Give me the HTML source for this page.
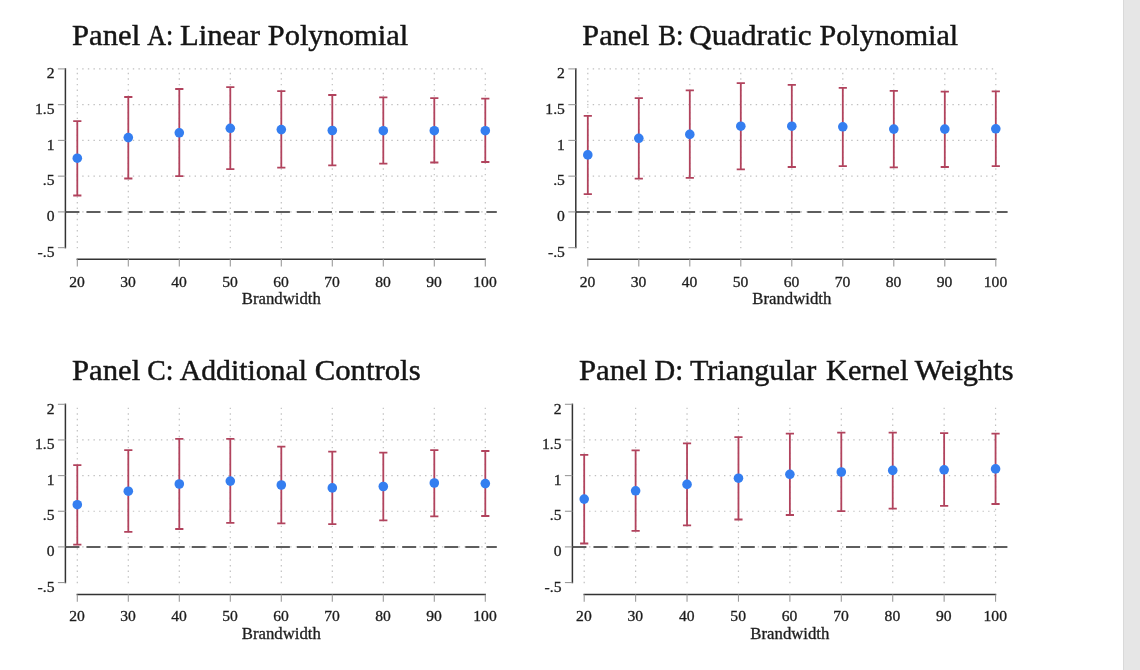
<!DOCTYPE html>
<html><head><meta charset="utf-8"><title>Bandwidth robustness</title>
<style>
html,body{margin:0;padding:0;background:#fff;width:1140px;height:670px;overflow:hidden}
svg{position:absolute;left:0;top:0;display:block;will-change:transform}
svg text{font-family:"Liberation Serif", serif}
.t{fill:#151515;stroke:#151515;stroke-width:0.45px}
.l{fill:#1e1e1e;stroke:#1e1e1e;stroke-width:0.3px}
.g{stroke:#c0c0c0;stroke-width:1.2px;stroke-dasharray:1.4 4.22;fill:none}
.z{stroke:#5e5e5e;stroke-width:2px;stroke-dasharray:14 7.05;fill:none}
.a{stroke:#333333;stroke-width:1.5px;fill:none}
.k{stroke:#9a9a9a;stroke-width:1.1px;fill:none}
.e{stroke:#b1435d;stroke-width:1.8px;fill:none}
.d{fill:#347ef0}
</style></head><body>
<svg width="1140" height="670" viewBox="0 0 1140 670">
<rect x="0" y="0" width="1140" height="670" fill="#fff"/>
<g>
<text x="72.02" y="44.5" font-size="29.5" class="t" textLength="68.20" lengthAdjust="spacingAndGlyphs">Panel</text>
<text x="147.25" y="44.5" font-size="29.5" class="t" textLength="26.07" lengthAdjust="spacingAndGlyphs">A:</text>
<text x="180.02" y="44.5" font-size="29.5" class="t" textLength="80.05" lengthAdjust="spacingAndGlyphs">Linear</text>
<text x="267.72" y="44.5" font-size="29.5" class="t" textLength="140.49" lengthAdjust="spacingAndGlyphs">Polynomial</text>
<line x1="76.6" y1="68.9" x2="485.3" y2="68.9" class="g"/>
<line x1="76.6" y1="104.65" x2="485.3" y2="104.65" class="g"/>
<line x1="76.6" y1="140.4" x2="485.3" y2="140.4" class="g"/>
<line x1="76.6" y1="176.15" x2="485.3" y2="176.15" class="g"/>
<line x1="76.6" y1="211.9" x2="485.3" y2="211.9" class="g"/>
<line x1="77.3" y1="248.35" x2="77.3" y2="68.9" class="g"/>
<line x1="128.3" y1="248.35" x2="128.3" y2="68.9" class="g"/>
<line x1="179.3" y1="248.35" x2="179.3" y2="68.9" class="g"/>
<line x1="230.3" y1="248.35" x2="230.3" y2="68.9" class="g"/>
<line x1="281.3" y1="248.35" x2="281.3" y2="68.9" class="g"/>
<line x1="332.3" y1="248.35" x2="332.3" y2="68.9" class="g"/>
<line x1="383.3" y1="248.35" x2="383.3" y2="68.9" class="g"/>
<line x1="434.3" y1="248.35" x2="434.3" y2="68.9" class="g"/>
<line x1="485.3" y1="248.35" x2="485.3" y2="68.9" class="g"/>
<line x1="65.4" y1="211.9" x2="496.8" y2="211.9" class="z"/>
<line x1="65.4" y1="68.2" x2="65.4" y2="248.35" class="a"/>
<line x1="57.9" y1="68.9" x2="65.4" y2="68.9" class="k"/>
<text x="54.5" y="78.1" font-size="14.2" text-anchor="end" textLength="7.81" lengthAdjust="spacingAndGlyphs" class="l">2</text>
<line x1="57.9" y1="104.65" x2="65.4" y2="104.65" class="k"/>
<text x="54.5" y="113.85" font-size="14.2" text-anchor="end" textLength="19.53" lengthAdjust="spacingAndGlyphs" class="l">1.5</text>
<line x1="57.9" y1="140.4" x2="65.4" y2="140.4" class="k"/>
<text x="54.5" y="149.6" font-size="14.2" text-anchor="end" textLength="7.81" lengthAdjust="spacingAndGlyphs" class="l">1</text>
<line x1="57.9" y1="176.15" x2="65.4" y2="176.15" class="k"/>
<text x="54.5" y="185.35" font-size="14.2" text-anchor="end" textLength="11.71" lengthAdjust="spacingAndGlyphs" class="l">.5</text>
<line x1="57.9" y1="211.9" x2="65.4" y2="211.9" class="k"/>
<text x="54.5" y="221.1" font-size="14.2" text-anchor="end" textLength="7.81" lengthAdjust="spacingAndGlyphs" class="l">0</text>
<line x1="57.9" y1="247.65" x2="65.4" y2="247.65" class="k"/>
<text x="54.5" y="256.85" font-size="14.2" text-anchor="end" textLength="16.92" lengthAdjust="spacingAndGlyphs" class="l">-.5</text>
<line x1="76.6" y1="259.3" x2="486" y2="259.3" class="a"/>
<line x1="77.3" y1="259.3" x2="77.3" y2="266.5" class="k"/>
<text x="77" y="286.5" font-size="14.2" text-anchor="middle" textLength="15.62" lengthAdjust="spacingAndGlyphs" class="l">20</text>
<line x1="128.3" y1="259.3" x2="128.3" y2="266.5" class="k"/>
<text x="128" y="286.5" font-size="14.2" text-anchor="middle" textLength="15.62" lengthAdjust="spacingAndGlyphs" class="l">30</text>
<line x1="179.3" y1="259.3" x2="179.3" y2="266.5" class="k"/>
<text x="179" y="286.5" font-size="14.2" text-anchor="middle" textLength="15.62" lengthAdjust="spacingAndGlyphs" class="l">40</text>
<line x1="230.3" y1="259.3" x2="230.3" y2="266.5" class="k"/>
<text x="230" y="286.5" font-size="14.2" text-anchor="middle" textLength="15.62" lengthAdjust="spacingAndGlyphs" class="l">50</text>
<line x1="281.3" y1="259.3" x2="281.3" y2="266.5" class="k"/>
<text x="281" y="286.5" font-size="14.2" text-anchor="middle" textLength="15.62" lengthAdjust="spacingAndGlyphs" class="l">60</text>
<line x1="332.3" y1="259.3" x2="332.3" y2="266.5" class="k"/>
<text x="332" y="286.5" font-size="14.2" text-anchor="middle" textLength="15.62" lengthAdjust="spacingAndGlyphs" class="l">70</text>
<line x1="383.3" y1="259.3" x2="383.3" y2="266.5" class="k"/>
<text x="383" y="286.5" font-size="14.2" text-anchor="middle" textLength="15.62" lengthAdjust="spacingAndGlyphs" class="l">80</text>
<line x1="434.3" y1="259.3" x2="434.3" y2="266.5" class="k"/>
<text x="434" y="286.5" font-size="14.2" text-anchor="middle" textLength="15.62" lengthAdjust="spacingAndGlyphs" class="l">90</text>
<line x1="485.3" y1="259.3" x2="485.3" y2="266.5" class="k"/>
<text x="485" y="286.5" font-size="14.2" text-anchor="middle" textLength="23.43" lengthAdjust="spacingAndGlyphs" class="l">100</text>
<text x="281.3" y="304.1" font-size="16" class="l" text-anchor="middle" textLength="79" lengthAdjust="spacingAndGlyphs">Brandwidth</text>
<path d="M77.3 121.2V195.5M73.2 121.2H81.4M73.2 195.5H81.4" class="e"/>
<path d="M128.3 97V178.5M124.2 97H132.4M124.2 178.5H132.4" class="e"/>
<path d="M179.3 89V176.1M175.2 89H183.4M175.2 176.1H183.4" class="e"/>
<path d="M230.3 87.2V169.2M226.2 87.2H234.4M226.2 169.2H234.4" class="e"/>
<path d="M281.3 91.1V167.7M277.2 91.1H285.4M277.2 167.7H285.4" class="e"/>
<path d="M332.3 95V165.4M328.2 95H336.4M328.2 165.4H336.4" class="e"/>
<path d="M383.3 97.4V163.6M379.2 97.4H387.4M379.2 163.6H387.4" class="e"/>
<path d="M434.3 98.1V162.5M430.2 98.1H438.4M430.2 162.5H438.4" class="e"/>
<path d="M485.3 98.6V162M481.2 98.6H489.4M481.2 162H489.4" class="e"/>
<circle cx="77.3" cy="158.2" r="4.8" class="d"/>
<circle cx="128.3" cy="137.6" r="4.8" class="d"/>
<circle cx="179.3" cy="132.8" r="4.8" class="d"/>
<circle cx="230.3" cy="128.3" r="4.8" class="d"/>
<circle cx="281.3" cy="129.6" r="4.8" class="d"/>
<circle cx="332.3" cy="130.5" r="4.8" class="d"/>
<circle cx="383.3" cy="130.7" r="4.8" class="d"/>
<circle cx="434.3" cy="130.7" r="4.8" class="d"/>
<circle cx="485.3" cy="130.7" r="4.8" class="d"/>
</g>
<g>
<text x="582.33" y="44.5" font-size="29.5" class="t" textLength="67.18" lengthAdjust="spacingAndGlyphs">Panel</text>
<text x="658.13" y="44.5" font-size="29.5" class="t" textLength="25.23" lengthAdjust="spacingAndGlyphs">B:</text>
<text x="689.23" y="44.5" font-size="29.5" class="t" textLength="122.43" lengthAdjust="spacingAndGlyphs">Quadratic</text>
<text x="819.53" y="44.5" font-size="29.5" class="t" textLength="138.67" lengthAdjust="spacingAndGlyphs">Polynomial</text>
<line x1="587.1" y1="68.9" x2="995.8" y2="68.9" class="g"/>
<line x1="587.1" y1="104.65" x2="995.8" y2="104.65" class="g"/>
<line x1="587.1" y1="140.4" x2="995.8" y2="140.4" class="g"/>
<line x1="587.1" y1="176.15" x2="995.8" y2="176.15" class="g"/>
<line x1="587.1" y1="211.9" x2="995.8" y2="211.9" class="g"/>
<line x1="587.8" y1="248.35" x2="587.8" y2="68.9" class="g"/>
<line x1="638.8" y1="248.35" x2="638.8" y2="68.9" class="g"/>
<line x1="689.8" y1="248.35" x2="689.8" y2="68.9" class="g"/>
<line x1="740.8" y1="248.35" x2="740.8" y2="68.9" class="g"/>
<line x1="791.8" y1="248.35" x2="791.8" y2="68.9" class="g"/>
<line x1="842.8" y1="248.35" x2="842.8" y2="68.9" class="g"/>
<line x1="893.8" y1="248.35" x2="893.8" y2="68.9" class="g"/>
<line x1="944.8" y1="248.35" x2="944.8" y2="68.9" class="g"/>
<line x1="995.8" y1="248.35" x2="995.8" y2="68.9" class="g"/>
<line x1="575.8" y1="211.9" x2="1007.6" y2="211.9" class="z"/>
<line x1="575.8" y1="68.2" x2="575.8" y2="248.35" class="a"/>
<line x1="568.3" y1="68.9" x2="575.8" y2="68.9" class="k"/>
<text x="564.9" y="78.1" font-size="14.2" text-anchor="end" textLength="7.81" lengthAdjust="spacingAndGlyphs" class="l">2</text>
<line x1="568.3" y1="104.65" x2="575.8" y2="104.65" class="k"/>
<text x="564.9" y="113.85" font-size="14.2" text-anchor="end" textLength="19.53" lengthAdjust="spacingAndGlyphs" class="l">1.5</text>
<line x1="568.3" y1="140.4" x2="575.8" y2="140.4" class="k"/>
<text x="564.9" y="149.6" font-size="14.2" text-anchor="end" textLength="7.81" lengthAdjust="spacingAndGlyphs" class="l">1</text>
<line x1="568.3" y1="176.15" x2="575.8" y2="176.15" class="k"/>
<text x="564.9" y="185.35" font-size="14.2" text-anchor="end" textLength="11.71" lengthAdjust="spacingAndGlyphs" class="l">.5</text>
<line x1="568.3" y1="211.9" x2="575.8" y2="211.9" class="k"/>
<text x="564.9" y="221.1" font-size="14.2" text-anchor="end" textLength="7.81" lengthAdjust="spacingAndGlyphs" class="l">0</text>
<line x1="568.3" y1="247.65" x2="575.8" y2="247.65" class="k"/>
<text x="564.9" y="256.85" font-size="14.2" text-anchor="end" textLength="16.92" lengthAdjust="spacingAndGlyphs" class="l">-.5</text>
<line x1="587.1" y1="259.3" x2="996.5" y2="259.3" class="a"/>
<line x1="587.8" y1="259.3" x2="587.8" y2="266.5" class="k"/>
<text x="587.5" y="286.5" font-size="14.2" text-anchor="middle" textLength="15.62" lengthAdjust="spacingAndGlyphs" class="l">20</text>
<line x1="638.8" y1="259.3" x2="638.8" y2="266.5" class="k"/>
<text x="638.5" y="286.5" font-size="14.2" text-anchor="middle" textLength="15.62" lengthAdjust="spacingAndGlyphs" class="l">30</text>
<line x1="689.8" y1="259.3" x2="689.8" y2="266.5" class="k"/>
<text x="689.5" y="286.5" font-size="14.2" text-anchor="middle" textLength="15.62" lengthAdjust="spacingAndGlyphs" class="l">40</text>
<line x1="740.8" y1="259.3" x2="740.8" y2="266.5" class="k"/>
<text x="740.5" y="286.5" font-size="14.2" text-anchor="middle" textLength="15.62" lengthAdjust="spacingAndGlyphs" class="l">50</text>
<line x1="791.8" y1="259.3" x2="791.8" y2="266.5" class="k"/>
<text x="791.5" y="286.5" font-size="14.2" text-anchor="middle" textLength="15.62" lengthAdjust="spacingAndGlyphs" class="l">60</text>
<line x1="842.8" y1="259.3" x2="842.8" y2="266.5" class="k"/>
<text x="842.5" y="286.5" font-size="14.2" text-anchor="middle" textLength="15.62" lengthAdjust="spacingAndGlyphs" class="l">70</text>
<line x1="893.8" y1="259.3" x2="893.8" y2="266.5" class="k"/>
<text x="893.5" y="286.5" font-size="14.2" text-anchor="middle" textLength="15.62" lengthAdjust="spacingAndGlyphs" class="l">80</text>
<line x1="944.8" y1="259.3" x2="944.8" y2="266.5" class="k"/>
<text x="944.5" y="286.5" font-size="14.2" text-anchor="middle" textLength="15.62" lengthAdjust="spacingAndGlyphs" class="l">90</text>
<line x1="995.8" y1="259.3" x2="995.8" y2="266.5" class="k"/>
<text x="995.5" y="286.5" font-size="14.2" text-anchor="middle" textLength="23.43" lengthAdjust="spacingAndGlyphs" class="l">100</text>
<text x="791.8" y="304.1" font-size="16" class="l" text-anchor="middle" textLength="79" lengthAdjust="spacingAndGlyphs">Brandwidth</text>
<path d="M587.8 115.8V194.1M583.7 115.8H591.9M583.7 194.1H591.9" class="e"/>
<path d="M638.8 98.1V178.6M634.7 98.1H642.9M634.7 178.6H642.9" class="e"/>
<path d="M689.8 90.4V177.8M685.7 90.4H693.9M685.7 177.8H693.9" class="e"/>
<path d="M740.8 83.2V169.3M736.7 83.2H744.9M736.7 169.3H744.9" class="e"/>
<path d="M791.8 84.9V167M787.7 84.9H795.9M787.7 167H795.9" class="e"/>
<path d="M842.8 87.8V166.2M838.7 87.8H846.9M838.7 166.2H846.9" class="e"/>
<path d="M893.8 90.9V167.3M889.7 90.9H897.9M889.7 167.3H897.9" class="e"/>
<path d="M944.8 91.7V167M940.7 91.7H948.9M940.7 167H948.9" class="e"/>
<path d="M995.8 91.3V166.2M991.7 91.3H999.9M991.7 166.2H999.9" class="e"/>
<circle cx="587.8" cy="154.9" r="4.8" class="d"/>
<circle cx="638.8" cy="138.3" r="4.8" class="d"/>
<circle cx="689.8" cy="134.4" r="4.8" class="d"/>
<circle cx="740.8" cy="126.2" r="4.8" class="d"/>
<circle cx="791.8" cy="126.2" r="4.8" class="d"/>
<circle cx="842.8" cy="126.8" r="4.8" class="d"/>
<circle cx="893.8" cy="129.1" r="4.8" class="d"/>
<circle cx="944.8" cy="129.1" r="4.8" class="d"/>
<circle cx="995.8" cy="128.8" r="4.8" class="d"/>
</g>
<g>
<text x="71.91" y="379.7" font-size="29.5" class="t" textLength="68.30" lengthAdjust="spacingAndGlyphs">Panel</text>
<text x="147.26" y="379.7" font-size="29.5" class="t" textLength="26.18" lengthAdjust="spacingAndGlyphs">C:</text>
<text x="179.71" y="379.7" font-size="29.5" class="t" textLength="127.19" lengthAdjust="spacingAndGlyphs">Additional</text>
<text x="314.74" y="379.7" font-size="29.5" class="t" textLength="105.87" lengthAdjust="spacingAndGlyphs">Controls</text>
<line x1="76.6" y1="439.95" x2="485.3" y2="439.95" class="g"/>
<line x1="76.6" y1="475.6" x2="485.3" y2="475.6" class="g"/>
<line x1="76.6" y1="511.25" x2="485.3" y2="511.25" class="g"/>
<line x1="76.6" y1="546.9" x2="485.3" y2="546.9" class="g"/>
<line x1="77.3" y1="583.25" x2="77.3" y2="404.3" class="g"/>
<line x1="128.3" y1="583.25" x2="128.3" y2="404.3" class="g"/>
<line x1="179.3" y1="583.25" x2="179.3" y2="404.3" class="g"/>
<line x1="230.3" y1="583.25" x2="230.3" y2="404.3" class="g"/>
<line x1="281.3" y1="583.25" x2="281.3" y2="404.3" class="g"/>
<line x1="332.3" y1="583.25" x2="332.3" y2="404.3" class="g"/>
<line x1="383.3" y1="583.25" x2="383.3" y2="404.3" class="g"/>
<line x1="434.3" y1="583.25" x2="434.3" y2="404.3" class="g"/>
<line x1="485.3" y1="583.25" x2="485.3" y2="404.3" class="g"/>
<line x1="65.4" y1="546.9" x2="496.8" y2="546.9" class="z"/>
<line x1="65.4" y1="403.6" x2="65.4" y2="583.25" class="a"/>
<line x1="57.9" y1="404.3" x2="65.4" y2="404.3" class="k"/>
<text x="54.5" y="413.5" font-size="14.2" text-anchor="end" textLength="7.81" lengthAdjust="spacingAndGlyphs" class="l">2</text>
<line x1="57.9" y1="439.95" x2="65.4" y2="439.95" class="k"/>
<text x="54.5" y="449.15" font-size="14.2" text-anchor="end" textLength="19.53" lengthAdjust="spacingAndGlyphs" class="l">1.5</text>
<line x1="57.9" y1="475.6" x2="65.4" y2="475.6" class="k"/>
<text x="54.5" y="484.8" font-size="14.2" text-anchor="end" textLength="7.81" lengthAdjust="spacingAndGlyphs" class="l">1</text>
<line x1="57.9" y1="511.25" x2="65.4" y2="511.25" class="k"/>
<text x="54.5" y="520.45" font-size="14.2" text-anchor="end" textLength="11.71" lengthAdjust="spacingAndGlyphs" class="l">.5</text>
<line x1="57.9" y1="546.9" x2="65.4" y2="546.9" class="k"/>
<text x="54.5" y="556.1" font-size="14.2" text-anchor="end" textLength="7.81" lengthAdjust="spacingAndGlyphs" class="l">0</text>
<line x1="57.9" y1="582.55" x2="65.4" y2="582.55" class="k"/>
<text x="54.5" y="591.75" font-size="14.2" text-anchor="end" textLength="16.92" lengthAdjust="spacingAndGlyphs" class="l">-.5</text>
<line x1="76.6" y1="594.5" x2="486" y2="594.5" class="a"/>
<line x1="77.3" y1="594.5" x2="77.3" y2="601.7" class="k"/>
<text x="77" y="620.9" font-size="14.2" text-anchor="middle" textLength="15.62" lengthAdjust="spacingAndGlyphs" class="l">20</text>
<line x1="128.3" y1="594.5" x2="128.3" y2="601.7" class="k"/>
<text x="128" y="620.9" font-size="14.2" text-anchor="middle" textLength="15.62" lengthAdjust="spacingAndGlyphs" class="l">30</text>
<line x1="179.3" y1="594.5" x2="179.3" y2="601.7" class="k"/>
<text x="179" y="620.9" font-size="14.2" text-anchor="middle" textLength="15.62" lengthAdjust="spacingAndGlyphs" class="l">40</text>
<line x1="230.3" y1="594.5" x2="230.3" y2="601.7" class="k"/>
<text x="230" y="620.9" font-size="14.2" text-anchor="middle" textLength="15.62" lengthAdjust="spacingAndGlyphs" class="l">50</text>
<line x1="281.3" y1="594.5" x2="281.3" y2="601.7" class="k"/>
<text x="281" y="620.9" font-size="14.2" text-anchor="middle" textLength="15.62" lengthAdjust="spacingAndGlyphs" class="l">60</text>
<line x1="332.3" y1="594.5" x2="332.3" y2="601.7" class="k"/>
<text x="332" y="620.9" font-size="14.2" text-anchor="middle" textLength="15.62" lengthAdjust="spacingAndGlyphs" class="l">70</text>
<line x1="383.3" y1="594.5" x2="383.3" y2="601.7" class="k"/>
<text x="383" y="620.9" font-size="14.2" text-anchor="middle" textLength="15.62" lengthAdjust="spacingAndGlyphs" class="l">80</text>
<line x1="434.3" y1="594.5" x2="434.3" y2="601.7" class="k"/>
<text x="434" y="620.9" font-size="14.2" text-anchor="middle" textLength="15.62" lengthAdjust="spacingAndGlyphs" class="l">90</text>
<line x1="485.3" y1="594.5" x2="485.3" y2="601.7" class="k"/>
<text x="485" y="620.9" font-size="14.2" text-anchor="middle" textLength="23.43" lengthAdjust="spacingAndGlyphs" class="l">100</text>
<text x="281.3" y="638.6" font-size="16" class="l" text-anchor="middle" textLength="79" lengthAdjust="spacingAndGlyphs">Brandwidth</text>
<path d="M77.3 465.2V544.7M73.2 465.2H81.4M73.2 544.7H81.4" class="e"/>
<path d="M128.3 450.1V531.9M124.2 450.1H132.4M124.2 531.9H132.4" class="e"/>
<path d="M179.3 438.8V529M175.2 438.8H183.4M175.2 529H183.4" class="e"/>
<path d="M230.3 438.8V522.8M226.2 438.8H234.4M226.2 522.8H234.4" class="e"/>
<path d="M281.3 446.6V523.4M277.2 446.6H285.4M277.2 523.4H285.4" class="e"/>
<path d="M332.3 451.6V524.1M328.2 451.6H336.4M328.2 524.1H336.4" class="e"/>
<path d="M383.3 452.6V520.4M379.2 452.6H387.4M379.2 520.4H387.4" class="e"/>
<path d="M434.3 450.1V516.4M430.2 450.1H438.4M430.2 516.4H438.4" class="e"/>
<path d="M485.3 451V516M481.2 451H489.4M481.2 516H489.4" class="e"/>
<circle cx="77.3" cy="504.7" r="4.8" class="d"/>
<circle cx="128.3" cy="491.2" r="4.8" class="d"/>
<circle cx="179.3" cy="484" r="4.8" class="d"/>
<circle cx="230.3" cy="481.1" r="4.8" class="d"/>
<circle cx="281.3" cy="485" r="4.8" class="d"/>
<circle cx="332.3" cy="487.9" r="4.8" class="d"/>
<circle cx="383.3" cy="486.5" r="4.8" class="d"/>
<circle cx="434.3" cy="483" r="4.8" class="d"/>
<circle cx="485.3" cy="483.6" r="4.8" class="d"/>
</g>
<g>
<text x="578.91" y="379.7" font-size="29.5" class="t" textLength="68.40" lengthAdjust="spacingAndGlyphs">Panel</text>
<text x="654.57" y="379.7" font-size="29.5" class="t" textLength="28.65" lengthAdjust="spacingAndGlyphs">D:</text>
<text x="689.96" y="379.7" font-size="29.5" class="t" textLength="126.30" lengthAdjust="spacingAndGlyphs">Triangular</text>
<text x="826.13" y="379.7" font-size="29.5" class="t" textLength="82.17" lengthAdjust="spacingAndGlyphs">Kernel</text>
<text x="914.67" y="379.7" font-size="29.5" class="t" textLength="98.80" lengthAdjust="spacingAndGlyphs">Weights</text>
<line x1="583.5" y1="439.95" x2="995.56" y2="439.95" class="g"/>
<line x1="583.5" y1="475.6" x2="995.56" y2="475.6" class="g"/>
<line x1="583.5" y1="511.25" x2="995.56" y2="511.25" class="g"/>
<line x1="583.5" y1="546.9" x2="995.56" y2="546.9" class="g"/>
<line x1="584.2" y1="583.25" x2="584.2" y2="404.3" class="g"/>
<line x1="635.62" y1="583.25" x2="635.62" y2="404.3" class="g"/>
<line x1="687.04" y1="583.25" x2="687.04" y2="404.3" class="g"/>
<line x1="738.46" y1="583.25" x2="738.46" y2="404.3" class="g"/>
<line x1="789.88" y1="583.25" x2="789.88" y2="404.3" class="g"/>
<line x1="841.3" y1="583.25" x2="841.3" y2="404.3" class="g"/>
<line x1="892.72" y1="583.25" x2="892.72" y2="404.3" class="g"/>
<line x1="944.14" y1="583.25" x2="944.14" y2="404.3" class="g"/>
<line x1="995.56" y1="583.25" x2="995.56" y2="404.3" class="g"/>
<line x1="572.4" y1="546.9" x2="1007.6" y2="546.9" class="z"/>
<line x1="572.4" y1="403.6" x2="572.4" y2="583.25" class="a"/>
<line x1="564.9" y1="404.3" x2="572.4" y2="404.3" class="k"/>
<text x="561.5" y="413.5" font-size="14.2" text-anchor="end" textLength="7.81" lengthAdjust="spacingAndGlyphs" class="l">2</text>
<line x1="564.9" y1="439.95" x2="572.4" y2="439.95" class="k"/>
<text x="561.5" y="449.15" font-size="14.2" text-anchor="end" textLength="19.53" lengthAdjust="spacingAndGlyphs" class="l">1.5</text>
<line x1="564.9" y1="475.6" x2="572.4" y2="475.6" class="k"/>
<text x="561.5" y="484.8" font-size="14.2" text-anchor="end" textLength="7.81" lengthAdjust="spacingAndGlyphs" class="l">1</text>
<line x1="564.9" y1="511.25" x2="572.4" y2="511.25" class="k"/>
<text x="561.5" y="520.45" font-size="14.2" text-anchor="end" textLength="11.71" lengthAdjust="spacingAndGlyphs" class="l">.5</text>
<line x1="564.9" y1="546.9" x2="572.4" y2="546.9" class="k"/>
<text x="561.5" y="556.1" font-size="14.2" text-anchor="end" textLength="7.81" lengthAdjust="spacingAndGlyphs" class="l">0</text>
<line x1="564.9" y1="582.55" x2="572.4" y2="582.55" class="k"/>
<text x="561.5" y="591.75" font-size="14.2" text-anchor="end" textLength="16.92" lengthAdjust="spacingAndGlyphs" class="l">-.5</text>
<line x1="583.5" y1="594.5" x2="996.26" y2="594.5" class="a"/>
<line x1="584.2" y1="594.5" x2="584.2" y2="601.7" class="k"/>
<text x="583.9" y="620.9" font-size="14.2" text-anchor="middle" textLength="15.62" lengthAdjust="spacingAndGlyphs" class="l">20</text>
<line x1="635.62" y1="594.5" x2="635.62" y2="601.7" class="k"/>
<text x="635.32" y="620.9" font-size="14.2" text-anchor="middle" textLength="15.62" lengthAdjust="spacingAndGlyphs" class="l">30</text>
<line x1="687.04" y1="594.5" x2="687.04" y2="601.7" class="k"/>
<text x="686.74" y="620.9" font-size="14.2" text-anchor="middle" textLength="15.62" lengthAdjust="spacingAndGlyphs" class="l">40</text>
<line x1="738.46" y1="594.5" x2="738.46" y2="601.7" class="k"/>
<text x="738.16" y="620.9" font-size="14.2" text-anchor="middle" textLength="15.62" lengthAdjust="spacingAndGlyphs" class="l">50</text>
<line x1="789.88" y1="594.5" x2="789.88" y2="601.7" class="k"/>
<text x="789.58" y="620.9" font-size="14.2" text-anchor="middle" textLength="15.62" lengthAdjust="spacingAndGlyphs" class="l">60</text>
<line x1="841.3" y1="594.5" x2="841.3" y2="601.7" class="k"/>
<text x="841" y="620.9" font-size="14.2" text-anchor="middle" textLength="15.62" lengthAdjust="spacingAndGlyphs" class="l">70</text>
<line x1="892.72" y1="594.5" x2="892.72" y2="601.7" class="k"/>
<text x="892.42" y="620.9" font-size="14.2" text-anchor="middle" textLength="15.62" lengthAdjust="spacingAndGlyphs" class="l">80</text>
<line x1="944.14" y1="594.5" x2="944.14" y2="601.7" class="k"/>
<text x="943.84" y="620.9" font-size="14.2" text-anchor="middle" textLength="15.62" lengthAdjust="spacingAndGlyphs" class="l">90</text>
<line x1="995.56" y1="594.5" x2="995.56" y2="601.7" class="k"/>
<text x="995.26" y="620.9" font-size="14.2" text-anchor="middle" textLength="23.43" lengthAdjust="spacingAndGlyphs" class="l">100</text>
<text x="789.88" y="638.6" font-size="16" class="l" text-anchor="middle" textLength="79" lengthAdjust="spacingAndGlyphs">Brandwidth</text>
<path d="M584.2 454.9V543.5M580.1 454.9H588.3M580.1 543.5H588.3" class="e"/>
<path d="M635.62 450.4V530.9M631.52 450.4H639.72M631.52 530.9H639.72" class="e"/>
<path d="M687.04 443.3V525.3M682.94 443.3H691.14M682.94 525.3H691.14" class="e"/>
<path d="M738.46 437.1V519.5M734.36 437.1H742.56M734.36 519.5H742.56" class="e"/>
<path d="M789.88 433.6V515M785.78 433.6H793.98M785.78 515H793.98" class="e"/>
<path d="M841.3 432.6V511.1M837.2 432.6H845.4M837.2 511.1H845.4" class="e"/>
<path d="M892.72 432.6V508.6M888.62 432.6H896.82M888.62 508.6H896.82" class="e"/>
<path d="M944.14 433.2V505.9M940.04 433.2H948.24M940.04 505.9H948.24" class="e"/>
<path d="M995.56 433.6V504M991.46 433.6H999.66M991.46 504H999.66" class="e"/>
<circle cx="584.2" cy="499.1" r="4.8" class="d"/>
<circle cx="635.62" cy="490.8" r="4.8" class="d"/>
<circle cx="687.04" cy="484.4" r="4.8" class="d"/>
<circle cx="738.46" cy="478.2" r="4.8" class="d"/>
<circle cx="789.88" cy="474.3" r="4.8" class="d"/>
<circle cx="841.3" cy="472" r="4.8" class="d"/>
<circle cx="892.72" cy="470.4" r="4.8" class="d"/>
<circle cx="944.14" cy="469.8" r="4.8" class="d"/>
<circle cx="995.56" cy="468.9" r="4.8" class="d"/>
</g>
<rect x="1123" y="0" width="17" height="670" fill="#e6e6e6"/>
<rect x="1123" y="0" width="1" height="670" fill="#d9d9d9"/>
</svg>
</body></html>
